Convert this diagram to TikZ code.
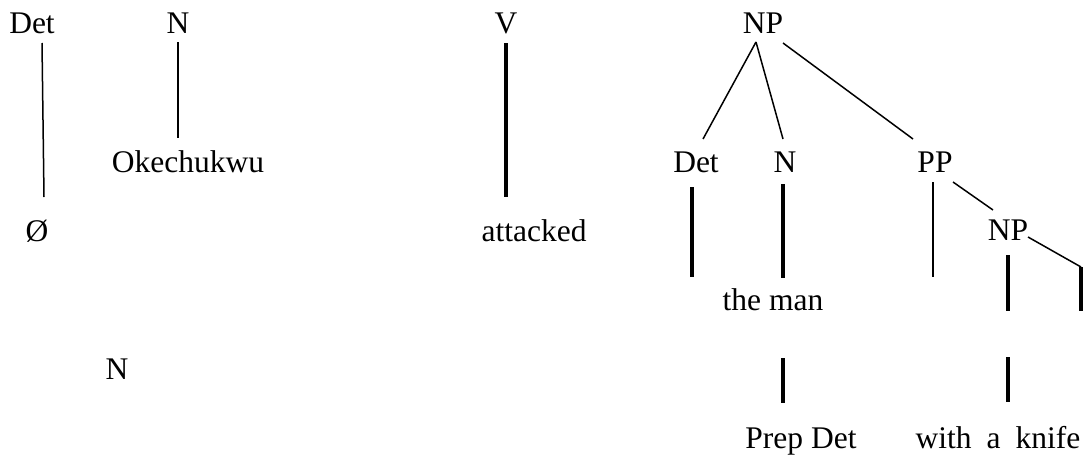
\documentclass[tikz,border=0pt]{standalone}
\usepackage{fontspec}
\setmainfont{Liberation Serif}
\usetikzlibrary{calc}

\begin{document}
\begin{tikzpicture}[x=1pt,y=-1pt,
		word/.style={inner sep=0pt,anchor=base,font=\fontsize{31.5}{36}\selectfont},
		thin/.style={line width=1.5pt},
		thick/.style={line width=3.2pt}]
			\useasboundingbox (0,0) rectangle (1086,458);
			\node[word] (det1) at (32,33) {Det};
			\node[word] (n1) at (178,33) {N};
			\node[word] (zero) at (37,241) {Ø};
			\node[word] (oke) at (188,172) {Okechukwu};
			\node[word] (nlone) at (117,379) {N};
			\node[word] (v) at (506,33) {V};
			\node[word] (att) at (534,241) {attacked};
			\node[word] (np1) at (763,33) {NP};
			\node[word] (det2) at (696,172) {Det};
			\node[word] (n2) at (785,172) {N};
			\node[word] (pp) at (935,172) {PP};
			\node[word] (np2) at (1008,240) {NP};
			\node[word] (theman) at (773,310) {the man};
			\node[word] (prepdet) at (801,448) {Prep Det};
			\node[word] (wak) at (998,448) {with\hspace{15pt}a\hspace{15pt}knife};
			\coordinate (detend) at (692,277);
			\coordinate (ppend) at (933,277);
			\coordinate (bend) at (1081,267);
			\coordinate (bendend) at (1081,311);
			\coordinate (npend) at (1008,311);
			\coordinate (lowtop) at (1008,357);
			\draw[thin] ($(det1.base)+(10,10)$) -- ($(zero.base)+(7,-44)$);
			\draw[thin] ($(n1.base)+(0,9)$) -- ($(oke.base)+(-10,-34)$);
			\draw[thick] ($(v.base)+(0,10)$) -- ($(att.base)+(-28,-44)$);
			\draw[thin] ($(np1.base)+(-7,9)$) -- ($(det2.base)+(7,-33)$);
			\draw[thin] ($(np1.base)+(-7,9)$) -- ($(n2.base)+(-2,-33)$);
			\draw[thin] ($(np1.base)+(20,10)$) -- ($(pp.base)+(-22,-33)$);
			\draw[thick] ($(det2.base)+(-4,15)$) -- (detend);
			\draw[thick] ($(n2.base)+(-2,12)$) -- ($(theman.base)+(10,-32)$);
			\draw[thin] ($(pp.base)+(-2,10)$) -- (ppend);
			\draw[thin] ($(pp.base)+(18,10)$) -- ($(np2.base)+(-15,-30)$);
			\draw[thin] ($(np2.base)+(20,-3)$) -- (bend);
			\draw[thick] (bend) -- (bendend);
			\draw[thick] ($(np2.base)+(0,15)$) -- (npend);
			\draw[thick] ($(theman.base)+(10,48)$) -- ($(prepdet.base)+(-18,-45)$);
			\draw[thick] (lowtop) -- ($(wak.base)+(10,-46)$);
		\end{tikzpicture}
\end{document}
